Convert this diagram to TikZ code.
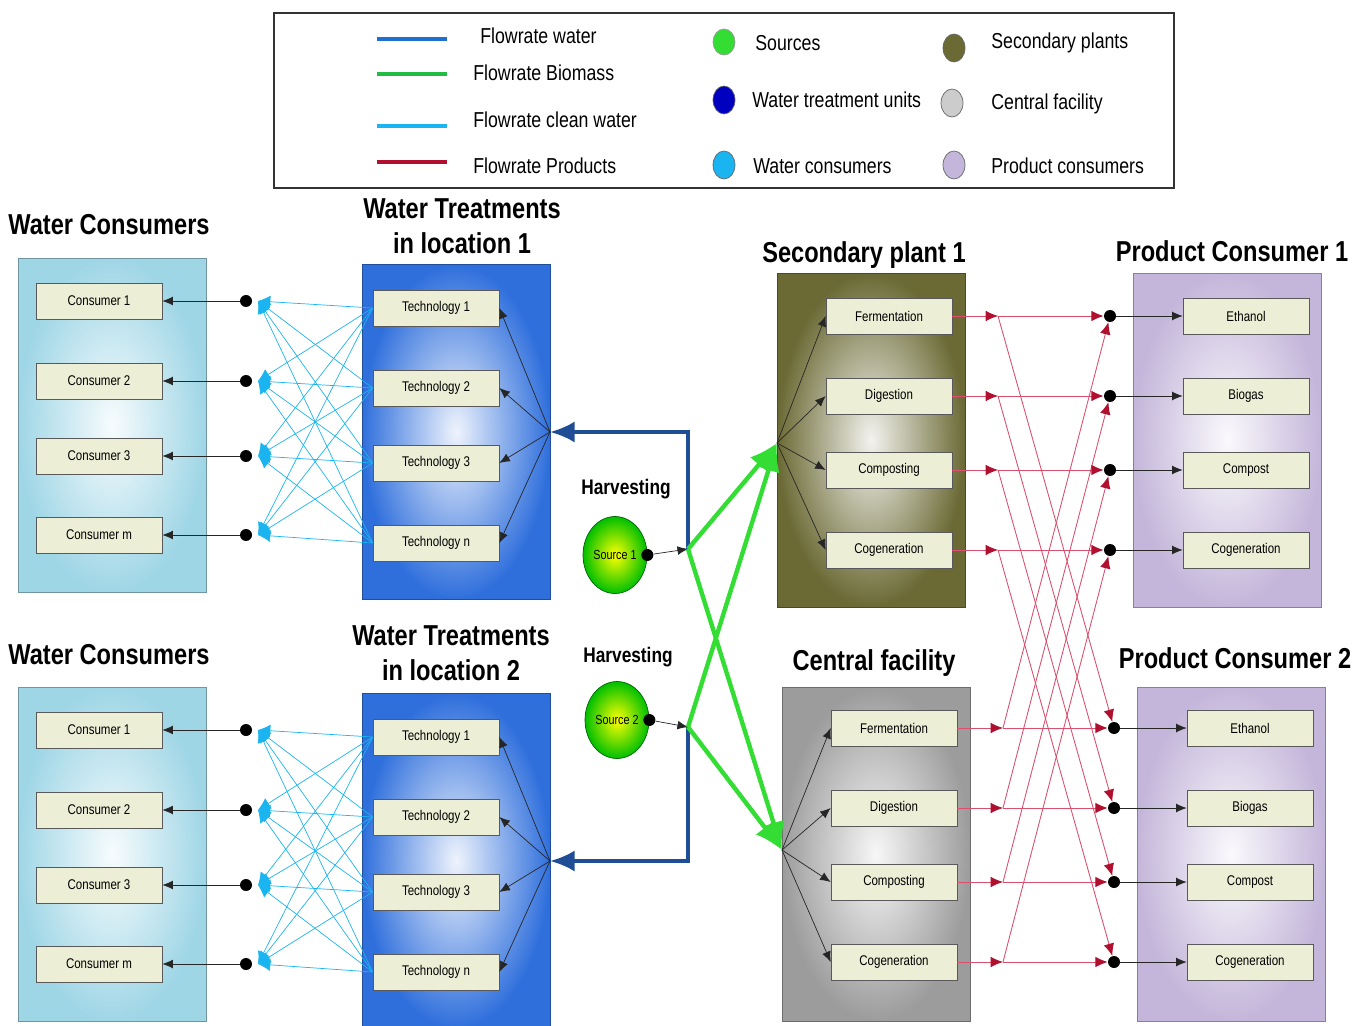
\documentclass[tikz,border=0pt]{standalone}
\usepackage{fontspec}
\setmainfont{Liberation Sans}
\newfontfamily\narrowsf[FakeStretch=0.82]{Liberation Sans}
\usetikzlibrary{arrows.meta, positioning, shapes.geometric}

\definecolor{flowwater}{HTML}{1F4E96}
\definecolor{legwater}{HTML}{1F6FD0}
\definecolor{flowbio}{HTML}{33DD33}
\definecolor{legbio}{HTML}{22BB44}
\definecolor{flowclean}{HTML}{1AB4F0}
\definecolor{flowprod}{HTML}{B0102E}
\definecolor{redline}{HTML}{D8506E}
\definecolor{consblue}{HTML}{9FD6E6}
\definecolor{techblue}{HTML}{2F6FDC}
\definecolor{plantolive}{HTML}{6B6A35}
\definecolor{facgray}{HTML}{9C9C9C}
\definecolor{prodlav}{HTML}{C4B6DA}
\definecolor{procfill}{HTML}{ECEED6}

\tikzset{
  unitbox/.style={draw=black!65, fill=procfill, minimum width=2.52cm, minimum height=0.72cm,
    inner sep=0pt, font=\narrowsf\fontsize{8}{9}\selectfont},
  zone/.style={draw=#1!70!black, inner color=#1!8, outer color=#1,
    minimum width=3.76cm, minimum height=6.68cm},
  heading/.style={font=\narrowsf\bfseries\fontsize{16.4}{20}\selectfont, align=center},
  jdot/.style={circle, fill=black, inner sep=0pt, minimum size=0.24cm},
  feed/.style={black!85, -{Latex[length=6pt,width=5pt]}},
  clean/.style={flowclean, line width=0.4pt, -{Latex[length=7pt,width=7pt]}},
  prod/.style={redline, line width=0.5pt, -{Latex[length=7pt,width=6pt,color=flowprod]}},
  water/.style={flowwater, line width=2pt, -{Latex[length=14pt,width=12pt]}},
  bio/.style={flowbio, line width=2.5pt, -{Latex[length=16pt,width=13pt]}},
  legtext/.style={anchor=west, inner sep=0pt, font=\narrowsf\fontsize{12.3}{14}\selectfont},
  harvest/.style={font=\narrowsf\bfseries\fontsize{12}{14}\selectfont},
  srcnode/.style={ellipse, draw=green!40!black, inner color=yellow, outer color=green!75!black,
    minimum width=1.28cm, minimum height=1.54cm, inner sep=0pt, font=\narrowsf\fontsize{7.5}{9}\selectfont}
}

\begin{document}
\begin{tikzpicture}[x=0.02cm, y=-0.02cm]
\useasboundingbox (0,0) rectangle (1354,1026);

\node[draw=black!80, line width=0.8pt, minimum width=18cm, minimum height=3.5cm] (legend) at (724,100.5) {};
\draw[legwater, line width=2pt] (377,39) -- (447,39);
\draw[legbio, line width=2pt] (377,74) -- (447,74);
\draw[flowclean, line width=2pt] (377,126) -- (447,126);
\draw[flowprod, line width=2pt] (377,162) -- (447,162);
\node[legtext] (lw) at (480,36) {Flowrate water};
\node[legtext] (lb) at (473,73) {Flowrate Biomass};
\node[legtext] (lc) at (473,120) {Flowrate clean water};
\node[legtext] (lp) at (473,166) {Flowrate Products};
\draw[black!40, fill=flowbio] (724,42) ellipse (11 and 13);
\draw[black!60, fill=blue!75!black] (724,100) ellipse (11 and 14);
\draw[black!60, fill=flowclean] (724,165) ellipse (11 and 14);
\draw[black!60, fill=plantolive] (954,48) ellipse (11 and 14);
\draw[black!60, fill=black!20] (952,103) ellipse (11 and 14);
\draw[black!60, fill=prodlav] (954,165) ellipse (11 and 14);
\node[legtext] (ls) at (755,43) {Sources};
\node[legtext] (lt) at (752,100) {Water treatment units};
\node[legtext] (lwc) at (753,166) {Water consumers};
\node[legtext] (lsp) at (991,43) {Secondary plants};
\node[legtext] (lcf) at (991,104) {Central facility};
\node[legtext] (lpc) at (991,166) {Product consumers};

\node[heading] (wct1) at (109,225) {Water Consumers};
\node[heading] (wtt1) at (462,226) {Water Treatments\\in location 1};
\node[heading] (wct2) at (109,655) {Water Consumers};
\node[heading] (wtt2) at (451,653) {Water Treatments\\in location 2};
\node[heading] (spt) at (864,255) {Secondary plant 1};
\node[heading] (cft) at (874,663) {Central facility};
\node[heading] (pct1) at (1232,251) {Product Consumer 1};
\node[heading] (pct2) at (1235,658) {Product Consumer 2};

\foreach \loc/\dy in {1/0, 2/429} {
  \node[zone=consblue] (wc\loc) at (112,425+\dy) {};
  \node[zone=techblue, minimum height=6.7cm] (wt\loc) at (456,432+\dy) {};
  \coordinate (wj\loc) at (550,432+\dy);
  \foreach \i/\cy/\ty/\cl/\tl in {1/301/308/1/1, 2/381/388/2/2, 3/456/463/3/3, 4/535/543/m/n} {
    \node[unitbox] (c\loc\i) at (99,\cy+\dy) {Consumer \cl};
    \node[unitbox] (t\loc\i) at (436,\ty+\dy) {Technology \tl};
    \node[jdot] (cd\loc\i) at (246,\cy+\dy) {};
    \coordinate (ca\loc\i) at (258,\cy+\dy);
    \draw[feed] (cd\loc\i) -- (c\loc\i.east);
    \draw[feed] (wj\loc) -- (t\loc\i.east);
  }
  \foreach \i in {1,...,4}
    \foreach \j in {1,...,4}
      \draw[clean] (t\loc\j.west) -- (ca\loc\i);
}

\node[zone=plantolive] (sp) at (871,440) {};
\node[zone=facgray] (cf) at (876,854) {};
\node[zone=prodlav] (pc1) at (1227,440) {};
\node[zone=prodlav] (pc2) at (1231,854) {};
\coordinate (spj) at (777,443);
\coordinate (cfj) at (782,850);
\foreach \i/\py/\name/\prodname in {1/316/Fermentation/Ethanol, 2/396/Digestion/Biogas, 3/470/Composting/Compost, 4/550/Cogeneration/Cogeneration} {
  \node[unitbox] (pa\i) at (889,\py) {\name};
  \node[unitbox] (pb\i) at (894,\py+412) {\name};
  \node[unitbox] (ea\i) at (1246,\py) {\prodname};
  \node[unitbox] (eb\i) at (1250,\py+412) {\prodname};
  \coordinate (ja\i) at (998,\py);
  \coordinate (jb\i) at (1003,\py+412);
  \node[jdot] (da\i) at (1110,\py) {};
  \node[jdot] (db\i) at (1114,\py+412) {};
  \draw[feed] (spj) -- (pa\i.west);
  \draw[feed] (cfj) -- (pb\i.west);
  \draw[feed] (da\i) -- (ea\i.west);
  \draw[feed] (db\i) -- (eb\i.west);
}
\foreach \i in {1,...,4} {
  \draw[prod] (pa\i.east) -- (ja\i);
  \draw[prod] (pb\i.east) -- (jb\i);
  \draw[prod] (ja\i) -- (da\i);
  \draw[prod] (jb\i) -- (db\i);
  \draw[prod] (ja\i) -- (db\i);
  \draw[prod] (jb\i) -- (da\i);
}

\node[harvest] (hv1) at (626,489) {Harvesting};
\node[harvest] (hv2) at (628,657) {Harvesting};
\node[srcnode] (s1) at (615,555) {Source 1};
\node[srcnode] (s2) at (617,720) {Source 2};
\node[jdot] (sd1) at (s1.east) {};
\node[jdot] (sd2) at (s2.east) {};
\coordinate (sj1) at (688,549);
\coordinate (sj2) at (688,727);
\draw[feed] (sd1) -- (sj1);
\draw[feed] (sd2) -- (sj2);
\draw[water] (sj1) |- (wj1);
\draw[water] (sj2) |- (wj2);
\draw[bio] (sj1) -- (spj);
\draw[bio] (sj1) -- (cfj);
\draw[bio] (sj2) -- (spj);
\draw[bio] (sj2) -- (cfj);
\end{tikzpicture}
\end{document}
